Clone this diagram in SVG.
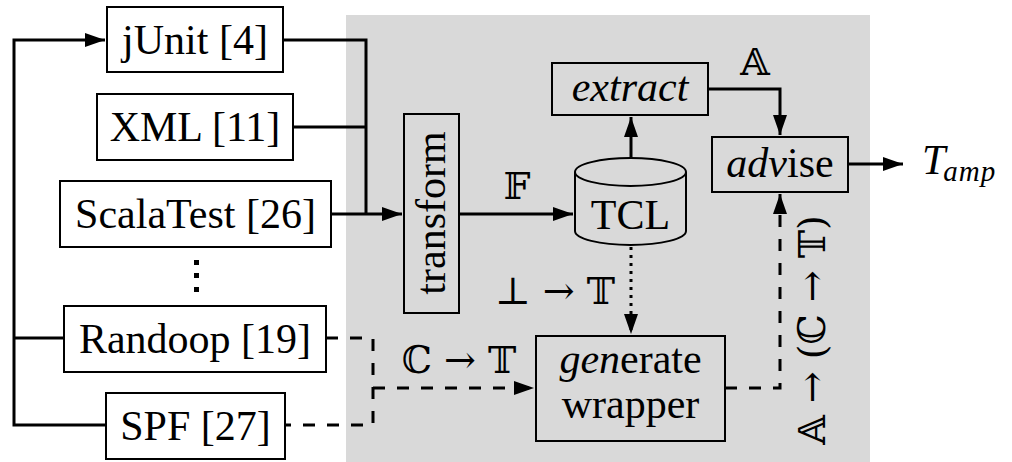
<svg xmlns="http://www.w3.org/2000/svg" width="1012" height="462" viewBox="0 0 1012 462">
<style>
.box{fill:none;stroke:#000;stroke-width:2}
.t{font-family:"Liberation Serif","Times New Roman",serif;font-size:42px;fill:#000;text-anchor:middle}
.it{font-style:italic}
.m{font-family:"DejaVu Serif","DejaVu Sans",serif;font-size:38px;fill:#000}
.c{fill:none;stroke:#000;stroke-width:3}
.d{stroke-dasharray:12 12}
.dot{stroke-dasharray:3 5}
</style>
<defs>
<marker id="ah" markerUnits="userSpaceOnUse" markerWidth="22" markerHeight="16" refX="20" refY="7" orient="auto">
<path d="M0,0 L20,7 L0,14 Z" fill="#000"/>
</marker>
</defs>
<rect x="346" y="15" width="524" height="447" fill="#d9d9d9"/>

<g id="connectors">
<path class="c" d="M106,425 H14 V40 H105" marker-end="url(#ah)"/>
<path class="c" d="M14,338 H64"/>
<path class="c" d="M283,40 H366 V214"/>
<path class="c" d="M293,127 H366"/>
<path class="c" d="M331,214 H402" marker-end="url(#ah)"/>
<path class="c" d="M459,214 H573" marker-end="url(#ah)"/>
<path class="c" d="M631,170 V117" marker-end="url(#ah)"/>
<path class="c dot" d="M631,247 V334" marker-end="url(#ah)"/>
<path class="c" d="M708,89 H780 V135" marker-end="url(#ah)"/>
<path class="c" d="M848,164 H903" marker-end="url(#ah)"/>
<path class="c d" d="M326,338 H373 V425 H285"/>
<path class="c d" d="M373,388 H534" marker-end="url(#ah)"/>
<path class="c d" d="M725,388 H780 V194" marker-end="url(#ah)"/>
</g>

<g id="junit"><rect class="box" x="107" y="7" width="176" height="65"/><text class="t" x="195" y="54">jUnit [4]</text></g>
<g id="xml"><rect class="box" x="97" y="94" width="196" height="66"/><text class="t" x="195" y="141">XML [11]</text></g>
<g id="scalatest"><rect class="box" x="60" y="181" width="271" height="66"/><text class="t" x="195.5" y="228">ScalaTest [26]</text></g>
<g id="dots" fill="#000"><rect x="194" y="260" width="5" height="5"/><rect x="194" y="273" width="5" height="5"/><rect x="194" y="287" width="5" height="5"/></g>
<g id="randoop"><rect class="box" x="64" y="306" width="262" height="66"/><text class="t" x="195" y="353">Randoop [19]</text></g>
<g id="spf"><rect class="box" x="106" y="393" width="179" height="66"/><text class="t" x="195.5" y="440">SPF [27]</text></g>

<g id="transform"><rect class="box" x="404" y="114" width="55" height="199"/><text class="t" transform="translate(445,213) rotate(-90)" x="0" y="0">transform</text></g>

<g id="tcl">
<path d="M575,172 V231 A55.5,14 0 0 0 686,231 V172" fill="#d9d9d9" stroke="#000" stroke-width="2"/>
<ellipse cx="630.5" cy="172" rx="55.5" ry="14" fill="#d9d9d9" stroke="#000" stroke-width="2"/>
<text class="t" x="630.5" y="229">TCL</text>
</g>

<g id="extract"><rect class="box" x="552" y="63" width="156" height="52"/><text class="t it" x="630" y="101">extract</text></g>
<g id="advise"><rect class="box" x="712" y="137" width="136" height="55"/><text class="t" x="780" y="177"><tspan class="it">adv</tspan>ise</text></g>
<g id="generate"><rect class="box" x="536" y="336" width="189" height="105"/><text class="t" x="630.5" y="373"><tspan class="it">gen</tspan>erate</text><text class="t" x="630.5" y="418">wrapper</text></g>

<g id="labels">
<text class="m" x="517" y="199" text-anchor="middle">𝔽</text>
<text class="m" x="755" y="75" text-anchor="middle">𝔸</text>
<text class="m" x="555" y="304" text-anchor="middle">⊥ → 𝕋</text>
<text class="m" x="459" y="373" text-anchor="middle">ℂ → 𝕋</text>
<text class="m" transform="translate(825,330) rotate(-90)" x="0" y="0" text-anchor="middle">𝔸 → (ℂ → 𝕋)</text>
<text font-family="Liberation Serif,serif" font-size="42" font-style="italic" x="922" y="174">T<tspan font-size="29" dy="7" dx="-2" letter-spacing="1">amp</tspan></text>
</g>
</svg>
